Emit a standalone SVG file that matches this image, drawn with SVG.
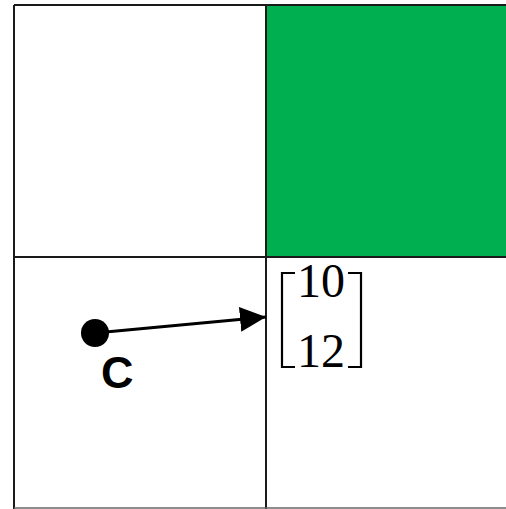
<svg xmlns="http://www.w3.org/2000/svg" width="506" height="509" viewBox="0 0 506 509">
<style>
.grid{stroke:#1a1a1a;stroke-width:2;fill:none}
.num{font-family:"Liberation Serif","DejaVu Serif",serif;font-size:48px;fill:#000}
.lbl{font-family:"Liberation Sans",Arial,sans-serif;font-weight:bold;font-size:45px;fill:#000}
.brk{stroke:#000;stroke-width:2.2;fill:none}
</style>
<defs>
<marker id="arr" markerWidth="26" markerHeight="26" refX="26" refY="12.5" orient="auto" markerUnits="userSpaceOnUse">
<path d="M0,0 L26,12.5 L0,25 Z" fill="#000"/>
</marker>
</defs>
<rect width="506" height="509" fill="#fff"/>
<g id="cells">
<rect id="cell-tr" x="267" y="5" width="240" height="252" fill="#00B050"/>
<path class="grid" d="M14,5 H507 M14,257 H507 M14,5 V509 M266,5 V509"/>
<line x1="14" y1="508" x2="506" y2="508" stroke="#666" stroke-width="1.5"/>
</g>
<g id="connectors">
<line x1="95" y1="333" x2="266" y2="317" stroke="#000" stroke-width="3" marker-end="url(#arr)"/>
</g>
<g id="point-c">
<circle cx="95" cy="333" r="14" fill="#000"/>
<text class="lbl" x="101" y="388">C</text>
</g>
<g id="vector">
<path class="brk" d="M295,273 H282 V367 H295"/>
<path class="brk" d="M348,273 H361 V367 H348"/>
<text class="num" x="297" y="297">10</text>
<text class="num" x="297" y="367">12</text>
</g>
</svg>
